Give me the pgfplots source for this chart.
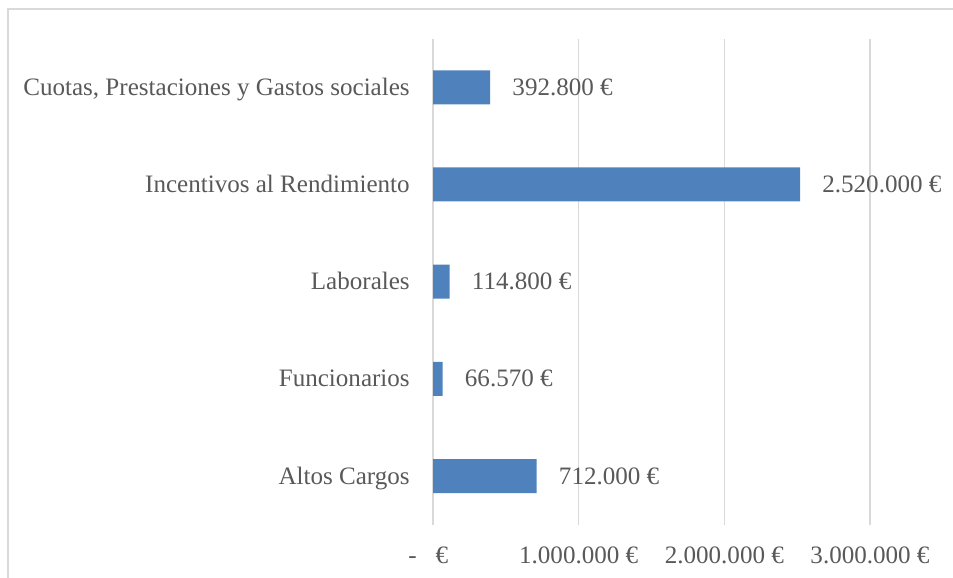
\documentclass[border=0pt]{standalone}
\usepackage{pgfplots}
\pgfplotsset{compat=1.18}
\usepackage{fontspec}
\setmainfont{Liberation Serif}
\definecolor{barblue}{HTML}{4F81BD}
\definecolor{txt}{HTML}{595959}
\definecolor{gridc}{HTML}{D9D9D9}
\definecolor{framec}{HTML}{D9D9D9}
\begin{document}
\begin{tikzpicture}[x=0.75pt,y=0.75pt]
\useasboundingbox (0,0) rectangle (953,578);
\draw[framec, line width=1.5pt] (7.5,-5) -- (7.5,569) -- (960,569);
\begin{axis}[
  at={(433pt*0.75,53.4pt*0.75)}, anchor=south west,
  scale only axis,
  width=327.75pt, height=364.4pt,
  xbar, bar width=25.5pt,
  xmin=0, xmax=3000000,
  ymin=-0.5, ymax=4.5,
  axis line style={draw=none},
  major tick length=0pt,
  xtick={0,1000000,2000000,3000000},
  xticklabels={{-\ \ \ €\kern7pt},{1.000.000 €},{2.000.000 €},{3.000.000 €}},
  ytick={0,1,2,3,4},
  yticklabels={Altos Cargos,Funcionarios,Laborales,Incentivos al Rendimiento,{Cuotas, Prestaciones y Gastos sociales}},
  xmajorgrids, grid style={gridc, line width=1pt},
  ymajorgrids=false,
  ticklabel style={font=\fontsize{18.8}{22}\selectfont, text=txt},
  yticklabel style={anchor=base east, inner sep=0pt, xshift=-17.25pt, yshift=-6pt},
  xticklabel style={anchor=base, inner sep=0pt, yshift=-28.8pt},
  scaled x ticks=false,
  point meta=explicit symbolic,
  nodes near coords,
  nodes near coords style={font=\fontsize{18.8}{22}\selectfont, text=txt, anchor=base west, inner sep=0pt, xshift=16.5pt, yshift=-6pt},
  clip=false,
]
\addplot[fill=barblue, draw=none] coordinates {
  (712000,0) [712.000 €]
  (66570,1) [66.570 €]
  (114800,2) [114.800 €]
  (2520000,3) [2.520.000 €]
  (392800,4) [392.800 €]
};
\end{axis}
\end{tikzpicture}
\end{document}
